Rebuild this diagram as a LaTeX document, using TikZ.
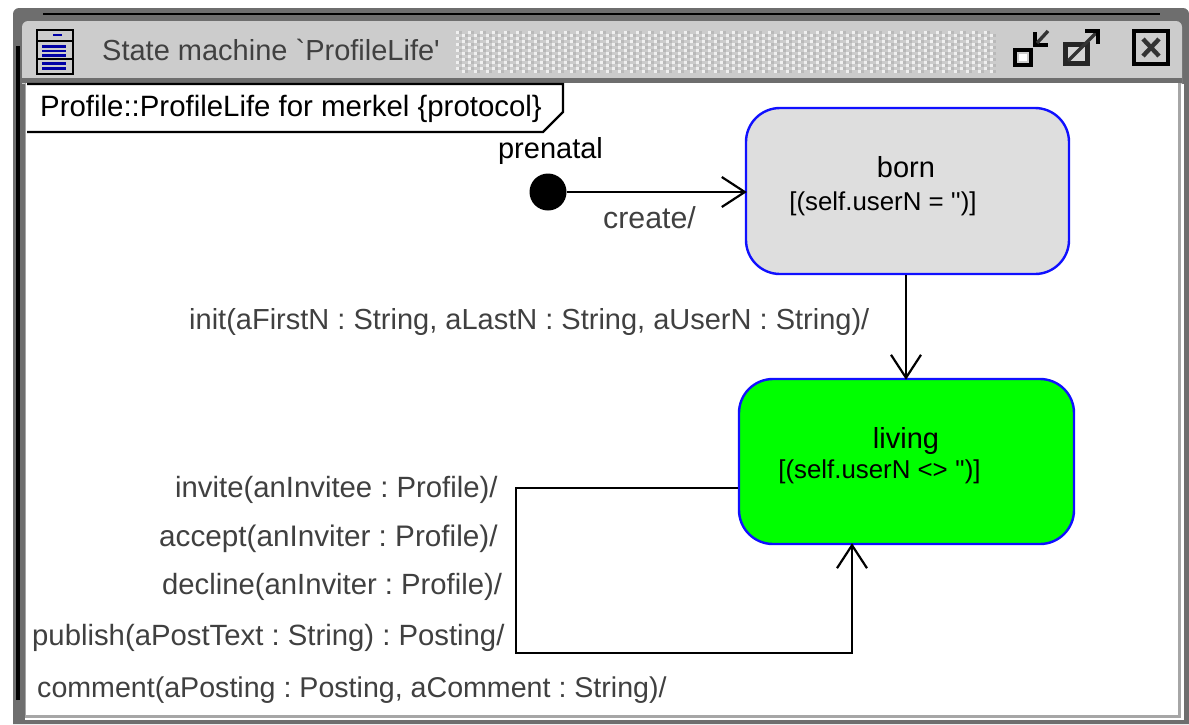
\documentclass[tikz,border=0pt]{standalone}
\usepackage{fontspec}
\newfontfamily\lib{Liberation Sans}
\usetikzlibrary{arrows.meta,calc}
\definecolor{barg}{HTML}{CCCCCC}
\definecolor{frameg}{HTML}{6E6E6E}
\definecolor{labelg}{HTML}{404040}
\definecolor{stateblue}{HTML}{1010FF}
\tikzset{
  statebox/.style={draw=stateblue,line width=2.4pt,rounded corners=34pt,inner sep=0pt},
  flow/.style={draw=black,line width=2.4pt,shorten >=-2pt,-{Straight Barb[length=23pt,width=30pt,line width=2.2pt]}},
  fs/.style={font=\lib\frenchspacing\fontsize{#1}{29}\selectfont},
  lab/.style={anchor=base west,inner sep=0pt,text=labelg,fs=#1},
  blab/.style={anchor=base,inner sep=0pt,text=black,fs=29},
  guard/.style={anchor=base,inner sep=0pt,text=black,fs=25.85},
  iconline/.style={draw=black,line width=2.6pt},
  blueline/.style={draw=blue!65!black,line width=2.6pt}
}
\begin{document}
\begin{tikzpicture}[x=1pt,y=-1pt]
\useasboundingbox (0,0) rectangle (1189,724);
\fill[white] (0,0) rectangle (1189,724);
% window frame
\fill[frameg] (13,18) [rounded corners=6pt] -- (13,8) -- (1189,8) [sharp corners] -- (1189,724) -- (13,724) -- cycle;
\draw[black,line width=2.6pt] (43,14) -- (1160,14);
\draw[black,line width=3.4pt] (18,46) -- (18,700);
% inner white edge
\fill[white] (24,84) rectangle (1184,720);
% title bar
\fill[barg] (22,84) [rounded corners=6pt] -- (22,21) -- (1182,21) [sharp corners] -- (1182,84) -- cycle;
\fill[frameg] (22,78) rectangle (1182,83);
% canvas
\fill[gray!70] (25,83) rectangle (1181,718);
\fill[white] (26,83) rectangle (1178,715);
\fill[frameg] (13,84) rectangle (25,720);
\draw[black,line width=3.4pt] (18,84) -- (18,700);
% dither strip
\foreach \i in {0,...,44}{\foreach \j in {0,...,6}{
  \fill[white!70!barg] ({456+12*\i},{31+6*\j}) rectangle +(3,3);
  \fill[white!70!barg] ({462+12*\i},{34+6*\j}) rectangle +(3,3);
  \fill[gray!55] ({459+12*\i},{31+6*\j}) rectangle +(3,3);
  \fill[gray!55] ({465+12*\i},{34+6*\j}) rectangle +(3,3);
}}
% title icon
\draw[iconline] (37,30) rectangle (73,74);
\draw[iconline] (37,41) -- (73,41);
\draw[iconline] (37,59) -- (73,59);
\draw[blueline] (53,35) -- (62,35);
\draw[blueline] (42,46.5) -- (66,46.5);
\draw[blueline] (42,51) -- (66,51);
\draw[blueline] (42,55.5) -- (66,55.5);
\draw[blueline] (42,63.5) -- (66,63.5);
\draw[blueline] (42,68.5) -- (66,68.5);
\node[lab=29] (title) at (102,60) {State machine `ProfileLife'};
% window buttons
\draw[black,line width=4.4pt] (1015,50) rectangle (1031,65);
\fill[white] (1019,54) rectangle (1027,61);
\draw[black,line width=4pt] (1035,32) -- (1035,45) -- (1048,45);
\draw[black!80,line width=3.4pt] (1037,43) -- (1048,31);
\fill[black!85] (1063,42) rectangle (1090,66);
\fill[barg!80!white] (1068,47) rectangle (1085,61);
\draw[black!80,line width=3.4pt] (1068,61) -- (1098,31);
\draw[black,line width=4pt] (1085,31) -- (1098,31) -- (1098,44);
\draw[black,line width=3.4pt] (1134,31) rectangle (1168,64);
\draw[black!80,line width=4.4pt] (1143,39) -- (1159,56);
\draw[black!80,line width=4.4pt] (1159,39) -- (1143,56);
% tag
\draw[black,line width=2.4pt,fill=white] (27,84) -- (563,84) -- (563,112) -- (543,132) -- (27,132);
\node[lab=29.4,text=black] (tag) at (40,116) {Profile::ProfileLife for merkel \{protocol\}};
% states
\node[statebox,fill=black!13,minimum width=323pt,minimum height=166pt] (born) at (907.5,191) {};
\node[statebox,fill=green,minimum width=335pt,minimum height=165pt] (living) at (906.5,461.5) {};
\node[circle,fill=black,minimum size=37pt,inner sep=0pt] (init) at (548,192) {};
\node[blab] (borntxt) at (906,177) {born};
\node[guard] (bornguard) at (883,210) {[(self.userN = '')]};
\node[blab] (livingtxt) at (906,448) {living};
\node[guard] (livingguard) at (879.5,478) {[(self.userN <> '')]};
\node[blab] (prenatal) at (550.5,158) {prenatal};
% connectors
\draw[flow] (init.east) -- (born.west |- init.east);
\coordinate (bornout) at ($(born.south)+(-1.5,0)$);
\draw[flow] (bornout) -- (bornout |- living.north);
\coordinate (loopa) at (516,488);
\coordinate (loopb) at (516,653);
\coordinate (loopc) at (852,653);
\draw[flow] ($(living.west)+(0,26.5)$) -- (loopa) -- (loopb) -- (loopc) -- ($(living.south)+(-54.5,0)$);
% labels
\node[lab=30.3] (create) at (603,228) {create/};
\node[lab=29] (initl) at (189,329) {init(aFirstN : String, aLastN : String, aUserN : String)/};
\node[lab=29.3] (invite) at (175,497) {invite(anInvitee : Profile)/};
\node[lab=29.7] (accept) at (159,546) {accept(anInviter : Profile)/};
\node[lab=29.25] (decline) at (162,594) {decline(anInviter : Profile)/};
\node[lab=29.3] (publish) at (32,645) {publish(aPostText : String) : Posting/};
\node[lab=28.6] (comment) at (37,697) {comment(aPosting : Posting, aComment : String)/};
\end{tikzpicture}
\end{document}
